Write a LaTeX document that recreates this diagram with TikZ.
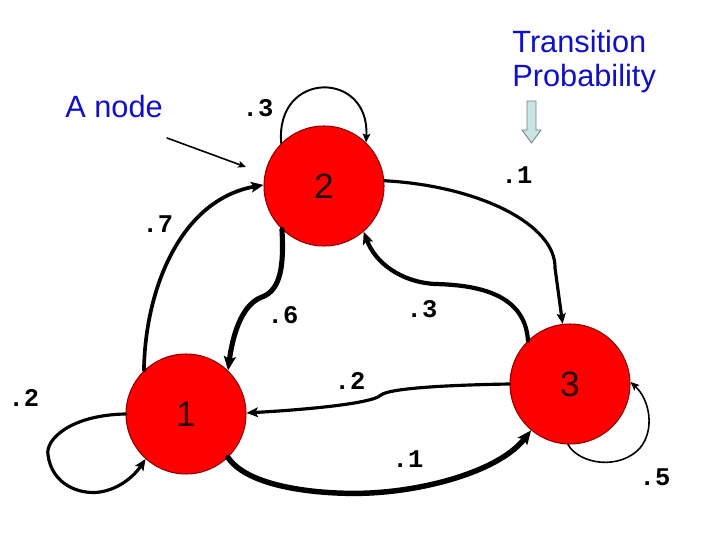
\documentclass[tikz,border=0pt]{standalone}
\usepackage{fontspec}
\setmainfont{Liberation Sans}
\newfontfamily\numfont{Liberation Mono}
\usetikzlibrary{arrows.meta}
\definecolor{nodered}{RGB}{255,0,0}
\definecolor{rededge}{RGB}{140,0,0}
\definecolor{textblue}{RGB}{16,16,200}
\definecolor{hintfill}{RGB}{200,228,228}
\definecolor{hintedge}{RGB}{120,130,130}
\tikzset{
  state/.style={circle, fill=nodered, draw=rededge, line width=0.6pt, minimum size=2.4cm, inner sep=0pt,
    font=\fontsize{20}{24}\selectfont, text=black!85!red},
  prob/.style={font=\numfont\bfseries\fontsize{14.5}{17}\selectfont, inner sep=0pt},
  note/.style={font=\fontsize{17.5}{21}\selectfont, text=textblue, inner sep=0pt},
  edge/.style={draw=black, line cap=round, -{Stealth[length=#1pt, width=0.85*#1pt, inset=0.2*#1pt]}},
}
\begin{document}
\begin{tikzpicture}[x=0.02cm, y=-0.02cm]
\useasboundingbox (0,0) rectangle (720,540);
% nodes
\node[state] (n2) at (324,186) {2};
\node[state] (n1) at (186,414) {1};
\node[state] (n3) at (570,384) {3};
% texts
\node[note, anchor=base west] (anode) at (65,118) {A node};
\node[note, anchor=base west] (tr1) at (512,53) {Transition};
\node[note, anchor=base west] (tr2) at (512,87) {Probability};
\coordinate (ptrS) at (167,138);
\coordinate (ptrE) at (246,167);
% hint arrow
\draw[draw=hintedge, fill=hintfill, line width=0.5pt]
  (527,101) -- (536,101) -- (536,130) -- (541,130) -- (531.5,143) -- (522,130) -- (527,130) -- cycle;
% probability labels
\node[prob] (p22) at (258,108) {.3};
\node[prob] (p23) at (517,175) {.1};
\node[prob] (p12) at (158,224) {.7};
\node[prob] (p21) at (283,315) {.6};
\node[prob] (p32) at (422,309) {.3};
\node[prob] (p31) at (350,381) {.2};
\node[prob] (p11) at (24,398) {.2};
\node[prob] (p13) at (408,459) {.1};
\node[prob] (p33) at (655,477) {.5};
% pointer
\draw[edge=4.5, line width=0.9pt] (ptrS) -- (ptrE);
% self loop 2
\draw[edge=5, line width=1.1pt] (n2.135) .. controls (275,70) and (370,70) .. (n2.46);
% 2 -> 3
\draw[edge=6, line width=1.8pt] (n2.5) .. controls (480,186) and (556,225) .. (555,268) -- (n3.97);
% 3 -> 2
\draw[edge=7, line width=2.4pt] (n3.134) .. controls (525,295) and (480,285) .. (435,284)
  .. controls (400,282) and (375,262) .. (n2.-49);
% 2 -> 1
\draw[edge=8, line width=2.9pt] (n2.-134) .. controls (284,265) and (281,290) .. (262,297)
  .. controls (240,305) and (232,340) .. (n1.46);
% 1 -> 2
\draw[edge=7, line width=2.1pt] (n1.134) .. controls (145,290) and (180,200) .. (n2.179);
% 3 -> 1
\draw[edge=6.5, line width=1.8pt] (n3.180) .. controls (450,385) and (390,388) .. (381,395)
  .. controls (372,404) and (300,410) .. (n1.1);
% 1 -> 3
\draw[edge=8, line width=3.1pt] (n1.-46) .. controls (250,490) and (330,495) .. (370,493)
  .. controls (430,490) and (500,470) .. (n3.-130);
% self loop 1
\draw[edge=6.5, line width=1.8pt] (n1.180) .. controls (70,415) and (45,440) .. (48,455)
  .. controls (52,485) and (80,495) .. (100,492) .. controls (120,489) and (135,475) .. (n1.-132);
% self loop 3
\draw[edge=5, line width=0.9pt] (n3.-92) .. controls (580,465) and (620,470) .. (640,448)
  .. controls (655,430) and (650,400) .. (n3.2);
\end{tikzpicture}
\end{document}
